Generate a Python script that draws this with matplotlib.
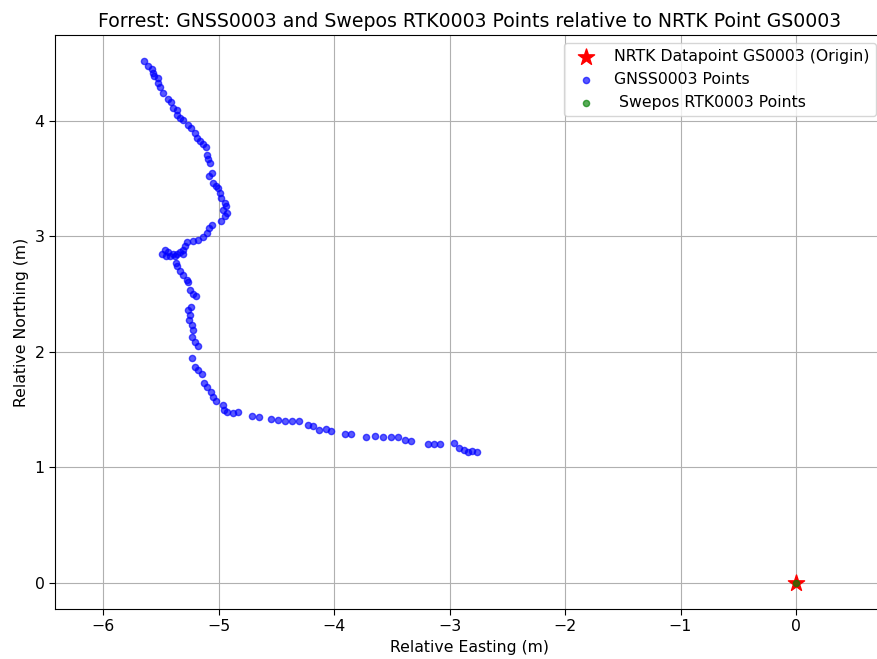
import matplotlib
matplotlib.use("Agg")
import matplotlib.pyplot as plt

gnss_east = [-5.650, -5.613, -5.583, -5.575, -5.563, -5.531, -5.526, -5.511, -5.483, -5.439,
             -5.419, -5.401, -5.367, -5.361, -5.338, -5.309, -5.266, -5.245, -5.208, -5.193,
             -5.165, -5.141, -5.113, -5.107, -5.098, -5.078, -5.063, -5.087, -5.055, -5.026,
             -5.006, -4.991, -4.985, -4.948, -4.939, -4.963, -4.933, -4.948, -4.985, -5.063,
             -5.084, -5.101, -5.141, -5.179, -5.223, -5.275, -5.295, -5.309, -5.338, -5.367,
             -5.401, -5.439, -5.468, -5.497, -5.459, -5.425, -5.381, -5.309, -5.373, -5.361,
             -5.338, -5.309, -5.280, -5.266, -5.251, -5.228, -5.202, -5.245, -5.266, -5.251,
             -5.257, -5.237, -5.228, -5.237, -5.208, -5.185, -5.237, -5.208, -5.179, -5.150,
             -5.130, -5.107, -5.072, -5.055, -5.026, -4.968, -4.957, -4.928, -4.876, -4.833,
             -4.717, -4.656, -4.552, -4.491, -4.428, -4.370, -4.304, -4.226, -4.183, -4.131,
             -4.075, -4.032, -3.908, -3.859, -3.729, -3.648, -3.576, -3.510, -3.446, -3.388,
             -3.339, -3.192, -3.134, -3.085, -2.964, -2.918, -2.877, -2.840, -2.810, -2.767]
gnss_north = [4.517, 4.474, 4.445, 4.411, 4.387, 4.373, 4.330, 4.296, 4.243, 4.185,
              4.162, 4.114, 4.093, 4.047, 4.021, 4.006, 3.960, 3.940, 3.897, 3.854,
              3.824, 3.796, 3.776, 3.700, 3.666, 3.637, 3.550, 3.521, 3.464, 3.440,
              3.420, 3.377, 3.334, 3.290, 3.261, 3.232, 3.204, 3.174, 3.131, 3.094,
              3.068, 3.030, 2.996, 2.972, 2.958, 2.949, 2.914, 2.880, 2.862, 2.851,
              2.851, 2.862, 2.880, 2.851, 2.828, 2.834, 2.828, 2.851, 2.770, 2.747,
              2.698, 2.669, 2.626, 2.602, 2.539, 2.504, 2.481, 2.389, 2.360, 2.322,
              2.279, 2.236, 2.192, 2.129, 2.082, 2.048, 1.947, 1.869, 1.846, 1.811,
              1.731, 1.696, 1.649, 1.606, 1.571, 1.542, 1.499, 1.476, 1.471, 1.476,
              1.447, 1.436, 1.419, 1.406, 1.398, 1.398, 1.398, 1.369, 1.354, 1.326,
              1.332, 1.317, 1.291, 1.291, 1.263, 1.268, 1.263, 1.263, 1.263, 1.239,
              1.231, 1.202, 1.202, 1.202, 1.211, 1.164, 1.153, 1.133, 1.146, 1.133]

swepos_east = [0.0]
swepos_north = [0.0]
origin_east = [0.0]
origin_north = [0.0]

FS = 11.3
plt.rcParams['font.size'] = FS

fig = plt.figure(figsize=(8.77, 6.59), dpi=100)
ax = fig.add_axes([55/877, 1 - 609/659, (884-55)/877, (609-35)/659])

ax.scatter(origin_east, origin_north, color='red', marker='*', s=150,
           label='NRTK Datapoint GS0003 (Origin)', zorder=3)
ax.scatter(gnss_east, gnss_north, color='blue', s=20, alpha=0.65,
           label='GNSS0003 Points', zorder=2)
ax.scatter(swepos_east, swepos_north, color='green', s=20, alpha=0.65,
           label=' Swepos RTK0003 Points', zorder=4)

ax.set_xlim(-6.42, 0.763)
ax.set_ylim(-0.226, 4.743)
ax.set_xticks([-6, -5, -4, -3, -2, -1, 0])
ax.set_yticks([0, 1, 2, 3, 4])
ax.tick_params(labelsize=FS, length=4)
ax.grid(True)
ax.set_axisbelow(True)
ax.set_xlabel('Relative Easting (m)', fontsize=FS)
ax.set_ylabel('Relative Northing (m)', fontsize=FS)
ax.set_title('Forrest: GNSS0003 and Swepos RTK0003 Points relative to NRTK Point GS0003',
             fontsize=13.6)
ax.legend(loc='upper right', fontsize=FS)

fig.savefig('out.png', dpi=100)
